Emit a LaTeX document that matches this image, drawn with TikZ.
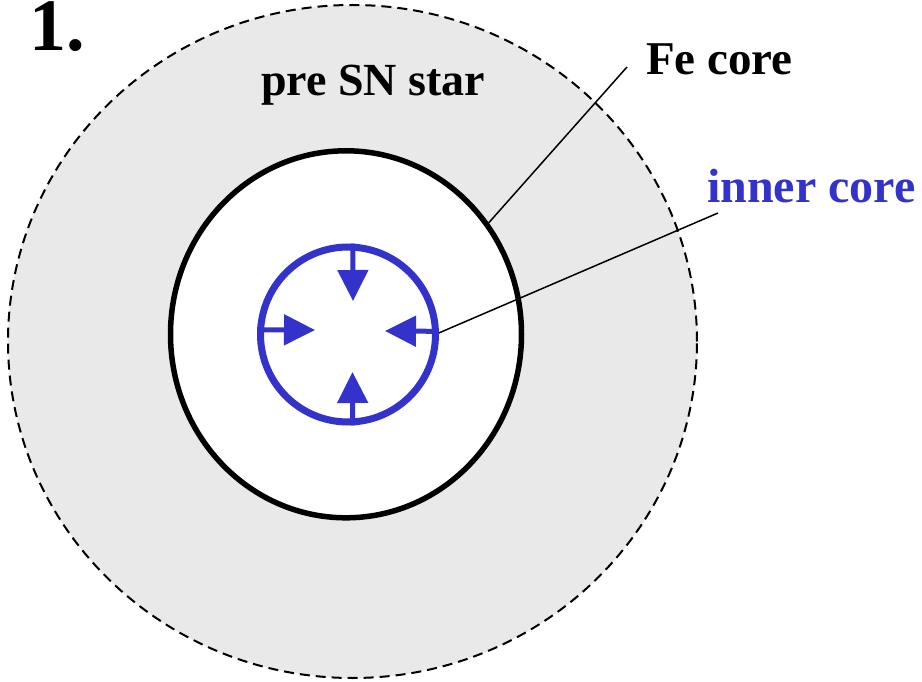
\documentclass[tikz,border=0pt]{standalone}
\usepackage{fontspec}
\setmainfont{Liberation Serif}
\usetikzlibrary{shapes.geometric,arrows.meta}
\definecolor{shellgray}{RGB}{233,233,233}
\definecolor{coreblue}{RGB}{51,51,204}
\tikzset{
  lbl/.style={anchor=base west, inner sep=0pt, font=\bfseries\fontsize{47}{52}\selectfont},
  leader/.style={line width=1.5pt, black},
  inarrow/.style={line width=5pt, coreblue, -{Triangle[length=31pt,width=30pt]}},
}
\begin{document}
\begin{tikzpicture}[x=1pt,y=-1pt]
\useasboundingbox (0,0) rectangle (922,682);
% shells
\node[ellipse, draw, dashed, dash pattern=on 10pt off 6pt, line width=2pt, fill=shellgray,
      minimum width=689pt, minimum height=673pt, inner sep=0pt] (star) at (352.5,341.5) {};
\node[ellipse, draw, line width=5.5pt, fill=white,
      minimum width=351pt, minimum height=367pt, inner sep=0pt] (fe) at (346,334.3) {};
\node[circle, draw=coreblue, line width=7pt,
      minimum size=175pt, inner sep=0pt] (inner) at (348,334.5) {};
% inward arrows
\coordinate (ttop) at (353,301);
\coordinate (tbot) at (352.5,372);
\coordinate (tleft) at (315,330);
\coordinate (tright) at (385,331);
\draw[inarrow] (inner.87) -- (ttop);
\draw[inarrow] (inner.-87) -- (tbot);
\draw[inarrow] (inner.177) -- (tleft);
\draw[inarrow] (inner.2.3) -- (tright);
% labels
\node[lbl, font=\bfseries\fontsize{74}{78}\selectfont] (num) at (29,51) {1.};
\node[lbl, font=\bfseries\fontsize{46}{50}\selectfont] (starlbl) at (261,96) {pre SN star};
\node[lbl] (felbl) at (646,75) {Fe core};
\node[lbl, text=coreblue, font=\bfseries\fontsize{48}{52}\selectfont] (innerlbl) at (707,203) {inner core};
% leaders
\coordinate (feend) at (627,67);
\coordinate (innerend) at (718,213);
\draw[leader] (fe.38) -- (feend);
\draw[leader] (inner.1) -- (innerend);
\end{tikzpicture}
\end{document}
